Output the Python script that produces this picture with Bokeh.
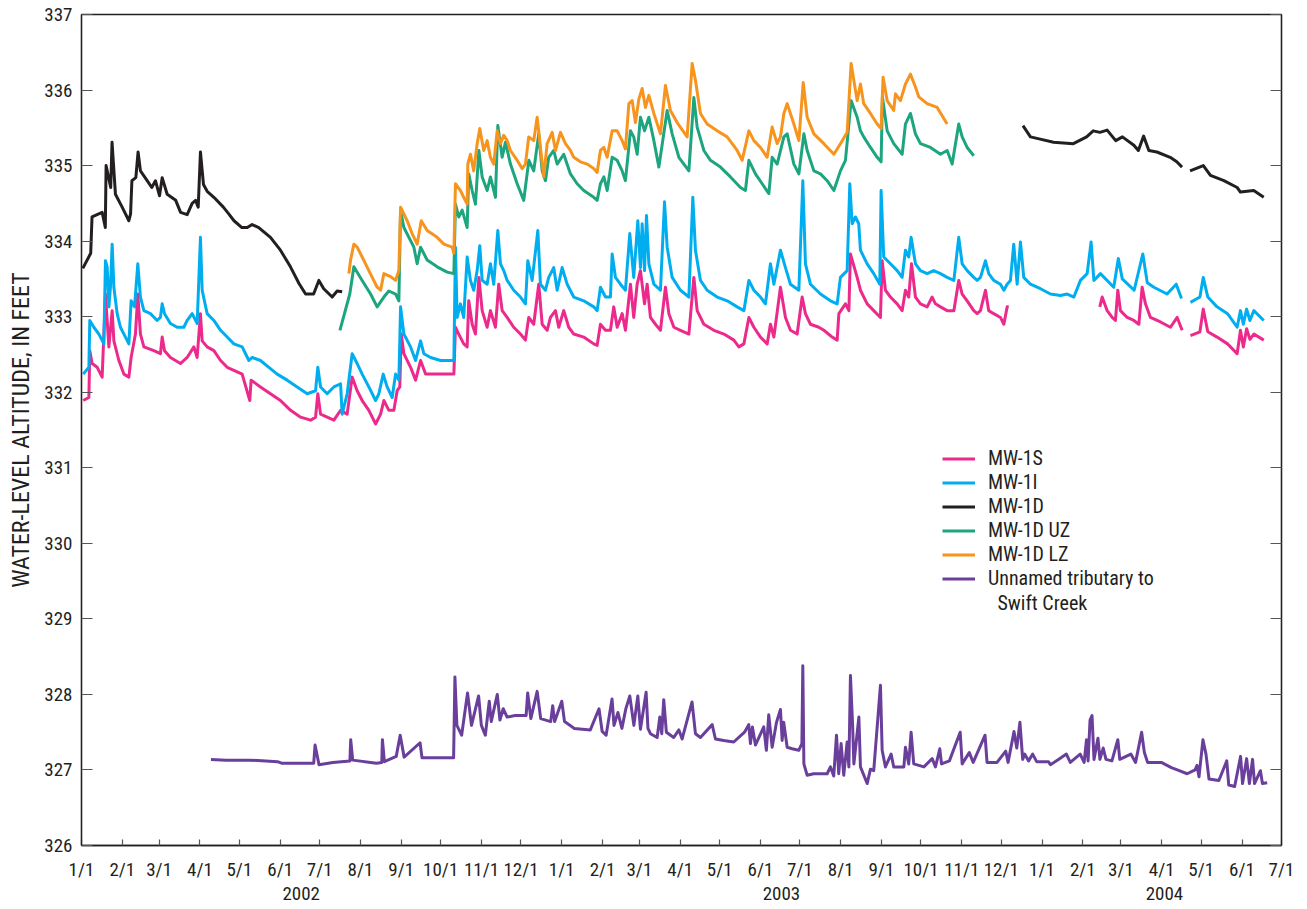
import numpy as np
import pandas as pd
from bokeh.plotting import figure
from bokeh.models import Range1d, FixedTicker, LinearAxis, Legend, LegendItem, Label
from bokeh.embed import file_html
from bokeh.resources import INLINE

# ---------------- data: (days since 2002-01-01, water-level altitude ft) ----------------
START = "2002-01-01"
END = "2004-07-01"

MW_1S = [(1.3,331.89),(5.6,331.93),(6.3,332.55),(8.1,332.38),(11.9,332.33),(15.7,332.20),(18.2,333.30),(20.8,332.60),(23.3,333.08),(24.6,332.68),(28.4,332.42),(32.2,332.24),(36,332.20),(37.7,332.46),(41,332.77),(42.8,333.30),(44.8,332.77),(47.4,332.60),(55,332.55),(60,332.51),(61.3,332.73),(63.1,332.55),(67.6,332.46),(75.2,332.38),(80.3,332.46),(85.4,332.60),(87.9,332.46),(90.4,333.04),(91.7,332.68),(95.5,332.60),(100.6,332.55),(105.7,332.42),(110.7,332.33),(115.8,332.29),(122.1,332.24),(127.9,331.89),(128.9,332.16),(136,332.07),(143.6,331.98),(151.2,331.89),(158.9,331.76),(166.5,331.67),(174.1,331.63),(177.9,331.67),(179.6,331.98),(181.7,331.71),(186.7,331.67),(191.8,331.63),(196.9,331.76),(201.9,331.71),(205.7,332.20),(209.5,332.02),(213.3,331.89),(218.4,331.76),(223.5,331.58),(227.3,331.71),(229.8,331.89),(233.6,331.76),(237.4,331.76),(239.9,332.02),(241.9,332.07),(243,332.77),(245,332.51),(250.1,332.33),(253.9,332.16),(257.7,332.42),(261.5,332.24),(267.8,332.24),(275.4,332.24),(283,332.24),(284.2,332.86),(286.7,332.77),(290.5,332.64),(293.1,332.60),(294.3,333.21),(296.9,332.90),(299.4,332.77),(302,333.52),(304.5,333.08),(308.3,332.86),(310.8,333.08),(314.6,332.86),(317.1,333.43),(319.7,333.08),(323.5,332.99),(328.5,332.86),(333.6,332.77),(337.4,332.69),(339.9,332.99),(343.7,332.90),(347.5,333.43),(350.1,332.90),(353.9,332.82),(356.4,332.99),(360.2,333.08),(362.7,332.86),(366.5,333.08),(370.3,332.86),(374.1,332.77),(381.7,332.73),(389.3,332.64),(391.9,332.62),(394.4,332.90),(398.2,332.82),(402,332.82),(404.5,333.13),(407.1,332.86),(410.9,333.04),(413.4,332.82),(417.2,333.43),(419.7,332.99),(422.3,333.43),(424.8,333.61),(427.9,333.17),(429.9,333.43),(432.4,332.99),(436.2,332.90),(440,332.82),(443.8,333.39),(446.4,333.04),(450.2,332.86),(455.2,332.82),(461.6,332.77),(465.4,333.52),(467.9,333.08),(473,332.90),(480.6,332.82),(488.2,332.77),(495.8,332.69),(499.6,332.60),(503.4,332.64),(507.2,332.99),(511,332.86),(516,332.73),(521.1,332.64),(523.6,332.90),(526.2,332.73),(531.2,333.39),(535,332.99),(538.8,332.82),(543.9,332.77),(547.7,333.26),(550.2,333.04),(554,332.90),(560.4,332.86),(564.2,332.82),(570.5,332.73),(574.3,332.69),(575.6,333.04),(580.6,333.17),(583.2,333.08),(584.4,333.83),(589.5,333.52),(592,333.35),(597.1,333.17),(602.1,333.08),(607.2,332.99),(608.5,333.74),(611,333.35),(614.8,333.26),(619.9,333.17),(623.7,333.08),(626.2,333.35),(628.7,333.26),(630.8,333.70),(633.8,333.26),(637.6,333.17),(642.7,333.13),(646.5,333.26),(649,333.17),(652.8,333.13),(657.9,333.08),(663,333.08),(666.7,333.48),(669.3,333.30),(673.1,333.21),(678.1,333.08),(680.7,333.04),(683.2,333.08),(687,333.35),(689.5,333.08),(693.3,333.04),(698.4,332.99),(701,332.90),(703.5,333.13),(704.7,333.13),(None,None),(773.9,333.13),(775.7,333.26),(779.5,333.08),(783.3,332.99),(785.8,332.95),(787.6,333.35),(789.6,333.08),(794.7,332.99),(799.8,332.95),(803.6,332.90),(806.1,333.39),(808.6,333.17),(812.4,332.99),(820,332.93),(827.6,332.86),(832.7,332.99),(836.5,332.82),(None,None),(842.8,332.75),(850,332.80),(852.5,333.10),(856,332.80),(863,332.73),(871,332.64),(878.3,332.51),(880.8,332.82),(883,332.60),(885.5,332.84),(888,332.70),(891,332.77),(898.5,332.69)]

MW_1I = [(1.3,332.24),(5.6,332.33),(6.3,332.95),(9.4,332.86),(13.2,332.77),(17,332.64),(18.2,333.74),(19.5,333.66),(20.8,333.13),(22,333.39),(23.3,333.96),(24.6,333.39),(27.1,333.04),(29.6,332.86),(33.4,332.73),(36,332.64),(37.7,333.21),(40.3,333.13),(42.8,333.70),(44.8,333.26),(47.4,333.08),(52.4,333.04),(57.5,332.95),(60,332.99),(61.3,333.17),(63.1,333.04),(67.6,332.91),(72.7,332.86),(77.8,332.86),(80.3,332.95),(84.1,333.04),(87.9,332.91),(90.4,334.05),(91.7,333.35),(95.5,333.04),(100.6,332.95),(105.7,332.82),(110.7,332.73),(115.8,332.64),(122.1,332.60),(127.2,332.42),(129.7,332.46),(136,332.42),(142.4,332.33),(148.7,332.24),(156.3,332.16),(163.9,332.07),(171.5,331.98),(177.9,332.02),(179.6,332.33),(181.7,332.07),(186.7,331.98),(191.8,332.07),(196.9,332.11),(198.1,331.71),(201.9,331.98),(205.7,332.51),(209.5,332.38),(213.3,332.24),(218.4,332.07),(223.5,331.89),(226,331.98),(229.3,332.24),(232.3,332.07),(236.1,331.93),(238.7,332.24),(241.2,332.16),(242.5,333.13),(245,332.77),(250.1,332.60),(253.9,332.42),(257.7,332.68),(260.2,332.51),(265.3,332.46),(272.9,332.42),(283,332.42),(284.2,333.92),(285.5,332.99),(288,333.17),(290.5,332.99),(293.1,333.79),(295.6,333.48),(298.1,333.35),(300.7,333.61),(302.7,333.94),(304.5,333.48),(308.3,333.43),(310.8,333.70),(313.3,333.43),(316.4,334.14),(318.4,333.70),(320.9,333.61),(323.5,333.48),(328.5,333.35),(333.6,333.26),(337.4,333.17),(339.2,333.74),(342.5,333.48),(346.8,334.14),(348.8,333.43),(352.6,333.35),(355.1,333.52),(358.9,333.65),(361.5,333.35),(365.3,333.65),(369.1,333.43),(374.1,333.26),(381.7,333.21),(389.3,333.13),(391.9,333.08),(394.4,333.39),(398.2,333.26),(402,333.26),(403.3,333.83),(405.8,333.52),(409.6,333.43),(413.4,333.35),(416.7,334.10),(419.7,333.52),(422.8,334.27),(424.8,333.65),(426.1,334.23),(427.9,333.61),(429.4,334.34),(431.2,333.70),(435,333.43),(440,333.35),(443.1,334.52),(445.1,333.92),(448.9,333.52),(455.2,333.35),(461.6,333.26),(464.6,334.58),(466.6,333.88),(470.4,333.48),(475.5,333.35),(483.1,333.26),(490.7,333.21),(498.3,333.13),(503.4,333.08),(507.2,333.48),(511,333.35),(516,333.26),(519.8,333.17),(523.6,333.70),(526.2,333.43),(531.2,333.88),(535,333.65),(538.8,333.43),(545.2,333.35),(548.2,334.80),(550.2,333.70),(554,333.43),(561.6,333.30),(569.2,333.21),(574.3,333.17),(576.8,333.52),(581.9,333.61),(583.9,334.76),(585.7,334.23),(588.2,334.32),(590.7,334.23),(592,333.88),(597.1,333.70),(602.1,333.57),(606.7,333.43),(607.7,334.67),(609.7,333.79),(614.8,333.70),(619.9,333.61),(623.7,333.52),(626.2,333.88),(628.7,333.79),(630.5,334.05),(633.8,333.70),(637.6,333.61),(642.7,333.57),(647.7,333.61),(652.8,333.57),(657.9,333.52),(663,333.48),(666.7,334.05),(669.3,333.70),(673.1,333.61),(678.1,333.52),(680.7,333.48),(683.2,333.52),(687,333.74),(689.5,333.57),(693.3,333.48),(698.4,333.43),(701,333.35),(703.5,333.43),(706,333.48),(708.5,333.96),(711.1,333.43),(713.6,333.99),(716.1,333.52),(721.2,333.43),(728.8,333.37),(736.4,333.30),(744,333.28),(749.1,333.30),(754.2,333.26),(759.2,333.48),(764.3,333.57),(767.3,333.99),(769.4,333.48),(774.4,333.57),(784.5,333.39),(788,333.77),(791,333.50),(800,333.35),(806.6,333.83),(810,333.45),(815,333.39),(825,333.30),(832,333.43),(836,333.24),(None,None),(842.8,333.19),(850,333.26),(852.5,333.52),(856,333.26),(863,333.13),(871,333.04),(878.3,332.86),(880.8,333.08),(883,332.90),(885.5,333.10),(888,332.95),(891,333.08),(898.5,332.95)]

MW_1D = [(1,333.64),(7,333.84),(8,334.32),(15.7,334.38),(18.1,334.18),(18.7,335.00),(22.2,334.71),(23.2,335.31),(25.8,334.62),(30.9,334.45),(36,334.27),(37.3,334.36),(38.3,334.80),(41.3,334.84),(43,335.18),(44.8,334.93),(49.9,334.80),(53.4,334.71),(56.2,334.80),(59.3,334.60),(61.3,334.84),(65.1,334.62),(71.6,334.54),(75.3,334.38),(80.3,334.35),(84.1,334.50),(86.7,334.54),(88.7,334.45),(90.4,335.18),(92.7,334.75),(95.5,334.66),(100.6,334.58),(107.8,334.45),(111.9,334.36),(115.9,334.27),(121.9,334.18),(126,334.18),(129.7,334.22),(134.7,334.18),(143.6,334.05),(151.2,333.88),(158.8,333.66),(165.3,333.44),(170.3,333.30),(176.4,333.30),(180.4,333.48),(184.1,333.37),(190.5,333.26),(194.3,333.34),(198.1,333.33),(None,None),(715.5,335.53),(721.2,335.38),(728.6,335.35),(738.7,335.31),(753.8,335.29),(763.9,335.38),(768.9,335.46),(774,335.44),(779.5,335.47),(786,335.33),(791.1,335.38),(799.8,335.27),(803.2,335.20),(807.2,335.39),(811.2,335.20),(817.3,335.18),(827.4,335.11),(832.4,335.05),(836.4,334.98),(None,None),(842.5,334.93),(852.6,335.00),(858,334.87),(868.2,334.80),(878.3,334.71),(880.8,334.65),(890.9,334.67),(898.5,334.58)]

MW_1D_UZ = [(196.4,332.82),(203.9,333.30),(207,333.66),(213.3,333.48),(219.7,333.30),(224.7,333.13),(229.8,333.26),(233.6,333.34),(238.7,333.30),(241.2,333.21),(242.5,334.41),(245,334.18),(252.6,333.92),(255.1,333.70),(257.7,333.92),(262.7,333.75),(270.3,333.66),(277.9,333.59),(283,333.57),(284.2,334.49),(286.7,334.32),(289.3,334.41),(293.1,334.18),(294.3,334.89),(296.9,334.67),(299.4,334.49),(302,335.20),(304.5,334.85),(308.3,334.67),(310.8,334.85),(314.6,334.58),(316.4,335.53),(319.7,335.11),(322.2,335.31),(326,335.02),(331.1,334.76),(336.1,334.54),(340,335.07),(343.7,334.93),(347.5,335.42),(350.1,334.93),(352.6,334.80),(355.1,335.11),(358.9,335.20),(361.5,335.02),(366.5,335.15),(371.6,334.89),(376.7,334.76),(381.7,334.67),(389.3,334.58),(391.9,334.54),(394.4,334.76),(397,334.85),(399.5,334.67),(403.3,335.11),(407.1,335.07),(410.9,334.93),(413.4,334.80),(417.2,335.46),(419.7,335.38),(422.3,335.15),(424.8,335.64),(427.9,335.46),(431.2,335.64),(435,335.33),(438.8,334.98),(445.1,335.73),(448.9,335.42),(454,335.11),(461.6,334.93),(465.4,335.90),(467.9,335.51),(473,335.20),(478,335.07),(485.6,334.98),(493.2,334.85),(500.8,334.71),(504.6,334.67),(507.2,335.07),(512.2,334.89),(517.3,334.76),(522.4,334.63),(524.9,335.11),(528.7,335.02),(533.8,335.38),(536.3,335.42),(541.4,335.02),(545.2,334.89),(549,335.42),(551.5,335.20),(556.6,334.93),(561.6,334.89),(566.7,334.80),(571.8,334.67),(576.8,334.93),(580.6,335.07),(584.9,335.86),(589.5,335.64),(592,335.46),(594.5,335.38),(599.6,335.24),(604.7,335.11),(607.7,335.05),(608.7,335.91),(612.3,335.46),(617.3,335.29),(623.7,335.15),(626.2,335.55),(630,335.69),(633.8,335.42),(637.6,335.29),(645.2,335.24),(652.8,335.15),(657.9,335.20),(661.7,335.02),(666.7,335.55),(669.3,335.38),(673.1,335.24),(678.1,335.13)]

MW_1D_LZ = [(203.2,333.57),(204.5,333.75),(207,333.96),(209.5,333.92),(213.3,333.79),(218.4,333.61),(224.7,333.39),(227.3,333.35),(229.8,333.57),(234.9,333.53),(238.7,333.48),(241.2,333.61),(242.5,334.45),(247.5,334.27),(251.3,334.10),(255.1,333.96),(258.2,334.27),(262.7,334.14),(270.3,334.05),(275.4,333.96),(281.7,333.92),(283,333.84),(284.2,334.76),(288,334.67),(290.5,334.58),(293.1,334.49),(293.6,335.02),(295.6,335.15),(298.1,334.93),(300.7,335.29),(302.7,335.49),(305.7,335.20),(308.3,335.33),(310.8,335.11),(313.3,335.02),(315.9,335.46),(318.4,335.29),(320.9,335.40),(323.5,335.33),(326,335.20),(331.1,335.07),(334.9,334.96),(337.4,335.02),(339.9,335.38),(343.7,335.33),(346.3,335.64),(348.8,335.24),(351.3,334.85),(353.9,335.29),(357.7,335.44),(360.2,335.20),(364,335.44),(367.8,335.29),(371.6,335.20),(374.1,335.11),(379.2,335.05),(384.3,335.02),(389.3,334.96),(391.9,334.91),(394.4,335.20),(397,335.24),(399.5,335.11),(403.3,335.46),(407.1,335.46),(410.9,335.33),(413.4,335.22),(416,335.82),(418.5,335.86),(421,335.57),(423.6,335.88),(426.1,336.02),(428.6,335.77),(431.2,335.93),(435,335.69),(440,335.42),(443.8,336.06),(447.6,335.73),(452.7,335.57),(460.3,335.38),(464.1,336.35),(466.6,336.13),(470.4,335.69),(475.5,335.55),(483.1,335.46),(490.7,335.38),(498.3,335.20),(502.1,335.07),(507.2,335.46),(511,335.33),(516,335.24),(521.1,335.11),(524.9,335.51),(528.7,335.29),(531.2,335.38),(533.8,335.69),(536.3,335.82),(541.4,335.55),(545.2,335.33),(548.5,336.10),(551.5,335.64),(556.6,335.42),(564.2,335.29),(571.8,335.15),(576.8,335.29),(581.9,335.44),(584.9,336.35),(589.5,335.86),(592,336.08),(594.5,335.82),(599.6,335.69),(604.7,335.55),(607.7,335.49),(609.2,336.17),(612.3,335.86),(617.3,335.73),(618.6,335.95),(622.4,335.86),(626.2,336.08),(630,336.21),(633.8,336.04),(636.3,335.91),(642.7,335.82),(650.3,335.77),(657.9,335.55)]

TRIBUTARY = [(98.4,327.14),(109.8,327.13),(127.9,327.13),(149,327.11),(152,327.09),(164,327.09),(176.5,327.09),(177.5,327.33),(180.5,327.07),(191,327.10),(204,327.12),(204.6,327.40),(206.1,327.13),(224.2,327.09),(228.2,327.10),(228.7,327.40),(230.2,327.11),(239.2,327.18),(242.2,327.46),(245.2,327.17),(257.3,327.36),(258.8,327.16),(282.8,327.16),(283.8,328.23),(285.3,327.59),(288.9,327.46),(293.4,328.02),(296.4,327.59),(301.8,327.98),(303.9,327.59),(306.9,327.46),(309.9,327.91),(311.4,327.64),(316,328.00),(318,327.66),(320.5,327.81),(323.5,327.70),(329.5,327.72),(337.9,327.72),(339.1,328.02),(341.5,327.68),(346.3,328.04),(349,327.68),(356.6,327.64),(358.1,327.85),(359.6,327.64),(365,327.91),(367.1,327.64),(374.6,327.55),(386.7,327.53),(393.3,327.81),(395.7,327.51),(398.7,327.46),(403.2,327.94),(404.7,327.59),(407.7,327.76),(410.7,327.55),(413.7,327.81),(416.7,327.98),(419.8,327.59),(422.8,327.98),(424.8,327.54),(429.1,328.03),(430.5,327.55),(432.4,327.48),(437.5,327.43),(439.5,327.70),(441,327.48),(442.5,327.93),(444.5,327.50),(450.1,327.43),(454,327.53),(456.5,327.41),(464,327.90),(466.6,327.48),(470.4,327.43),(479.3,327.60),(481.8,327.41),(488.1,327.39),(495.7,327.37),(503.9,327.50),(507.1,327.60),(508.4,327.35),(509.9,327.57),(512.2,327.33),(518.5,327.57),(520.5,327.26),(522.3,327.73),(524.9,327.30),(528.2,327.63),(531.2,327.80),(532.5,327.39),(533.7,327.63),(536.3,327.30),(540.1,327.28),(545.1,327.26),(547.5,327.35),(548.2,328.38),(549,327.08),(551.5,326.93),(556.5,326.95),(566.7,326.95),(569.2,327.04),(571.7,326.92),(573.8,327.46),(575.5,326.95),(577.3,327.35),(579.3,326.93),(581.9,327.37),(583.2,327.04),(584.4,328.25),(586,327.61),(587,327.08),(590.8,327.70),(592,327.04),(597.1,326.82),(599.6,327.01),(602.1,326.99),(607.2,328.12),(608.5,327.26),(611,327.04),(615.3,327.21),(617.3,327.04),(625,327.04),(626.2,327.30),(628.7,327.08),(630.5,327.50),(632.5,327.08),(640.2,327.04),(646.5,327.15),(649,327.04),(652.3,327.28),(653.6,327.08),(659.6,327.12),(667.8,327.50),(669.3,327.08),(674.7,327.23),(677.7,327.10),(686.7,327.46),(688.2,327.10),(695.8,327.10),(702.4,327.25),(704.2,327.10),(708.7,327.51),(710.8,327.29),(713.2,327.63),(715.3,327.14),(716.8,327.21),(719.8,327.12),(722.9,327.21),(725.9,327.11),(734.9,327.11),(736.4,327.07),(742.5,327.14),(748.5,327.21),(751.5,327.10),(759,327.21),(762,327.10),(763.8,327.40),(765,327.12),(766.5,327.66),(768,327.72),(769.5,327.14),(772.5,327.42),(774,327.14),(776.5,327.29),(778.6,327.14),(783.1,327.12),(787.6,327.40),(789.1,327.14),(797.5,327.21),(801.1,327.10),(805.7,327.50),(807.8,327.23),(810.2,327.10),(820.7,327.10),(828.3,327.03),(834.3,326.99),(840.3,326.95),(846.3,327.00),(847.8,327.06),(849.3,326.91),(852.3,327.40),(854.6,327.21),(856.9,326.88),(864.4,326.86),(870.4,327.12),(871.9,326.80),(876.4,326.78),(880.9,327.18),(882.4,326.82),(885.5,327.15),(887.6,326.82),(890,327.14),(891.5,326.82),(896,326.99),(897.5,326.82),(901.1,326.83)]

SERIES_NAMES = ["MW-1S", "MW-1I", "MW-1D", "MW-1D UZ", "MW-1D LZ", "Unnamed tributary to"]
SERIES_COLORS = ["#ec2a8c", "#00aeef", "#231f20", "#1da57f", "#f7941d", "#6a3f9c"]
LEGEND_SECOND_LINE = "Swift Creek"
Y_TICKS = [326, 327, 328, 329, 330, 331, 332, 333, 334, 335, 336, 337]
YEAR_LABELS = [("2002-06-17", "2002"), ("2003-06-17", "2003"), ("2004-04-03", "2004")]
Y_LABEL = "WATER-LEVEL ALTITUDE, IN FEET"

# ---------------- helpers ----------------
BASE_MS = pd.Timestamp(START).value / 1e6
DAY_MS = 86400000.0
END_MS = pd.Timestamp(END).value / 1e6


def to_xy(pairs):
    xs, ys = [], []
    for d, v in pairs:
        if d is None:
            xs.append(np.nan)
            ys.append(np.nan)
        else:
            xs.append(BASE_MS + d * DAY_MS)
            ys.append(v)
    return xs, ys


FONT = "Roboto Condensed"
TXT = "#231f20"
TICK = "#555555"

p = figure(width=1307, height=909, output_backend="svg", toolbar_location=None,
           x_range=Range1d(BASE_MS, END_MS), y_range=Range1d(326, 337),
           min_border_left=81, min_border_right=26, min_border_top=14, min_border_bottom=64)
p.background_fill_color = "white"
p.border_fill_color = "white"
p.outline_line_color = TXT
p.outline_line_width = 1.3
p.xgrid.visible = False
p.ygrid.visible = False

# month ticks
months = pd.date_range(START, END, freq="MS")
month_ms = [t.value / 1e6 for t in months]
p.xaxis.ticker = FixedTicker(ticks=month_ms)
p.xaxis.major_label_overrides = {ms: f"{t.month}/1" for ms, t in zip(month_ms, months)}

for ax in [p.xaxis[0], p.yaxis[0]]:
    ax.axis_line_color = TXT
    ax.axis_line_width = 1.3
    ax.major_tick_line_color = TICK
    ax.major_tick_line_width = 1.2
    ax.minor_tick_line_color = None
    ax.major_tick_out = 0
    ax.major_label_text_font = FONT
    ax.major_label_text_font_size = "19px"
    ax.major_label_text_color = TXT

p.xaxis.major_tick_in = 6
p.xaxis.major_label_standoff = 12
p.yaxis.ticker = FixedTicker(ticks=Y_TICKS)
p.yaxis.major_tick_in = 11
p.yaxis.major_label_standoff = 9
p.yaxis.axis_label = Y_LABEL
p.yaxis.axis_label_text_font = FONT
p.yaxis.axis_label_text_font_size = "24px"
p.yaxis.axis_label_text_font_style = "normal"
p.yaxis.axis_label_text_color = TXT
p.yaxis.axis_label_standoff = 6

# right axis (inward ticks, no labels)
rax = LinearAxis(ticker=FixedTicker(ticks=Y_TICKS), major_tick_in=11, major_tick_out=0,
                 major_tick_line_color=TICK, major_tick_line_width=1.2,
                 minor_tick_line_color=None, axis_line_color=TXT, axis_line_width=1.3,
                 major_label_text_color=None, major_label_text_font_size="1px",
                 major_label_standoff=0)
p.add_layout(rax, "right")

# year axis
year_ms = [pd.Timestamp(d).value / 1e6 for d, _ in YEAR_LABELS]
yax = LinearAxis(ticker=FixedTicker(ticks=year_ms),
                 major_label_overrides={ms: lab for ms, (_, lab) in zip(year_ms, YEAR_LABELS)},
                 axis_line_color=None, major_tick_line_color=None, minor_tick_line_color=None,
                 major_tick_in=0, major_tick_out=0, major_label_standoff=3,
                 major_label_text_font=FONT, major_label_text_font_size="19px",
                 major_label_text_color=TXT)
p.add_layout(yax, "below")

renderers = []
for pairs, color in zip([MW_1S, MW_1I, MW_1D, MW_1D_UZ, MW_1D_LZ, TRIBUTARY], SERIES_COLORS):
    xs, ys = to_xy(pairs)
    r = p.line(xs, ys, line_color=color, line_width=3, line_join="round")
    renderers.append(r)

items = [LegendItem(label=n, renderers=[r]) for n, r in zip(SERIES_NAMES, renderers)]
legend = Legend(items=items, location=(861, 255), padding=0, margin=0, spacing=0,
                label_height=23, glyph_height=23, glyph_width=33, label_standoff=13,
                label_text_font=FONT, label_text_font_size="20px", label_text_color=TXT,
                border_line_color=None, background_fill_alpha=0)
p.add_layout(legend, "center")

p.add_layout(Label(x=916, y=243, x_units="screen", y_units="screen", text=LEGEND_SECOND_LINE,
                   text_font=FONT, text_font_size="20px", text_color=TXT,
                   text_baseline="middle", text_align="left"))

open("out.html", "w").write(file_html(p, INLINE))
